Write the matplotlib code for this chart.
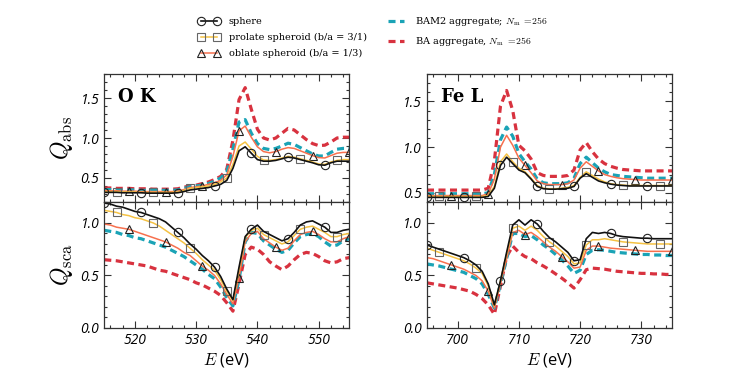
import matplotlib
matplotlib.use("Agg")
import matplotlib.pyplot as plt
import numpy as np
from matplotlib.ticker import MultipleLocator

# energy grids (eV)
E_O = np.arange(515, 556)
E_Fe = np.arange(695, 736)

# O K edge, absorption efficiency
O_abs_sphere = [0.32, 0.32, 0.32, 0.315, 0.315, 0.315, 0.315, 0.31, 0.31, 0.31,
                0.31, 0.31, 0.315, 0.33, 0.35, 0.36, 0.37, 0.38, 0.40, 0.42,
                0.47, 0.62, 0.84, 0.89, 0.81, 0.73, 0.71, 0.71, 0.72, 0.74,
                0.76, 0.75, 0.73, 0.71, 0.69, 0.665, 0.66, 0.69, 0.71, 0.71,
                0.71]
O_abs_prolate = [0.33, 0.33, 0.33, 0.325, 0.325, 0.325, 0.32, 0.32, 0.32, 0.32,
                 0.32, 0.32, 0.325, 0.345, 0.37, 0.38, 0.39, 0.40, 0.42, 0.45,
                 0.50, 0.67, 0.90, 0.95, 0.86, 0.77, 0.725, 0.72, 0.73, 0.75,
                 0.77, 0.76, 0.74, 0.72, 0.70, 0.675, 0.67, 0.70, 0.72, 0.73,
                 0.73]
O_abs_oblate = [0.34, 0.34, 0.34, 0.335, 0.335, 0.335, 0.33, 0.33, 0.33, 0.33,
                0.33, 0.33, 0.335, 0.355, 0.38, 0.39, 0.40, 0.42, 0.44, 0.47,
                0.54, 0.77, 1.09, 1.15, 1.01, 0.89, 0.83, 0.815, 0.83, 0.86,
                0.88, 0.87, 0.84, 0.81, 0.78, 0.755, 0.75, 0.78, 0.81, 0.82,
                0.82]
O_abs_bam2 = [0.355, 0.355, 0.355, 0.35, 0.35, 0.35, 0.345, 0.345, 0.345, 0.345,
              0.345, 0.345, 0.35, 0.37, 0.39, 0.40, 0.41, 0.43, 0.46, 0.50,
              0.58, 0.86, 1.20, 1.23, 1.06, 0.93, 0.87, 0.855, 0.87, 0.90,
              0.935, 0.92, 0.88, 0.84, 0.80, 0.775, 0.775, 0.82, 0.86, 0.87,
              0.87]
O_abs_ba = [0.375, 0.375, 0.37, 0.37, 0.37, 0.365, 0.365, 0.365, 0.36, 0.36,
            0.36, 0.36, 0.365, 0.385, 0.40, 0.41, 0.43, 0.45, 0.48, 0.52,
            0.61, 0.97, 1.48, 1.63, 1.36, 1.11, 1.00, 0.975, 1.00, 1.06,
            1.12, 1.10, 1.04, 0.98, 0.93, 0.905, 0.91, 0.95, 1.00, 1.01,
            1.01]

# O K edge, scattering efficiency
O_sca_sphere = [1.19, 1.18, 1.16, 1.15, 1.13, 1.11, 1.10, 1.08, 1.06, 1.04,
                1.01, 0.96, 0.91, 0.86, 0.80, 0.75, 0.69, 0.64, 0.58, 0.49,
                0.37, 0.27, 0.58, 0.87, 0.94, 0.98, 0.92, 0.89, 0.86, 0.83,
                0.85, 0.91, 0.98, 1.01, 1.02, 0.99, 0.96, 0.91, 0.91, 0.93,
                0.94]
O_sca_prolate = [1.12, 1.11, 1.10, 1.08, 1.07, 1.05, 1.04, 1.02, 1.00, 0.97,
                 0.93, 0.89, 0.85, 0.81, 0.76, 0.71, 0.65, 0.60, 0.55, 0.46,
                 0.35, 0.26, 0.55, 0.86, 0.93, 0.95, 0.89, 0.86, 0.83, 0.80,
                 0.82, 0.88, 0.94, 0.96, 0.97, 0.94, 0.91, 0.87, 0.87, 0.89,
                 0.90]
O_sca_oblate = [0.99, 0.98, 0.96, 0.95, 0.94, 0.92, 0.90, 0.88, 0.86, 0.84,
                0.82, 0.79, 0.76, 0.72, 0.69, 0.64, 0.59, 0.55, 0.50, 0.42,
                0.32, 0.23, 0.48, 0.82, 0.90, 0.92, 0.85, 0.81, 0.77, 0.74,
                0.76, 0.83, 0.89, 0.91, 0.92, 0.89, 0.85, 0.82, 0.82, 0.85,
                0.87]
O_sca_bam2 = [0.93, 0.92, 0.91, 0.89, 0.88, 0.86, 0.85, 0.83, 0.81, 0.79,
              0.77, 0.74, 0.71, 0.68, 0.64, 0.60, 0.56, 0.51, 0.47, 0.39,
              0.29, 0.21, 0.46, 0.82, 0.91, 0.90, 0.83, 0.79, 0.75, 0.72,
              0.74, 0.81, 0.87, 0.89, 0.90, 0.87, 0.82, 0.78, 0.79, 0.83,
              0.85]
O_sca_ba = [0.65, 0.645, 0.64, 0.63, 0.62, 0.61, 0.60, 0.59, 0.57, 0.55,
            0.54, 0.52, 0.50, 0.48, 0.46, 0.43, 0.41, 0.38, 0.35, 0.31,
            0.24, 0.16, 0.42, 0.70, 0.77, 0.75, 0.70, 0.63, 0.59, 0.555,
            0.59, 0.65, 0.70, 0.72, 0.71, 0.68, 0.64, 0.62, 0.63, 0.66,
            0.67]

# Fe L edge, absorption efficiency
Fe_abs_sphere = [0.45] * 10 + [
    0.46, 0.55, 0.80, 0.89, 0.82, 0.75, 0.72, 0.65, 0.57, 0.545,
    0.54, 0.54, 0.545, 0.55, 0.57, 0.66, 0.71, 0.67, 0.63, 0.61,
    0.595, 0.585, 0.58, 0.575, 0.575, 0.575, 0.575, 0.575, 0.575, 0.575,
    0.575]
Fe_abs_prolate = [0.46] * 10 + [
    0.47, 0.57, 0.84, 0.925, 0.84, 0.77, 0.73, 0.66, 0.58, 0.55,
    0.545, 0.545, 0.55, 0.56, 0.58, 0.67, 0.73, 0.69, 0.65, 0.62,
    0.60, 0.59, 0.585, 0.58, 0.58, 0.58, 0.58, 0.58, 0.58, 0.58,
    0.58]
Fe_abs_oblate = [0.47] * 10 + [
    0.49, 0.65, 1.00, 1.13, 1.02, 0.88, 0.80, 0.72, 0.63, 0.60,
    0.59, 0.59, 0.59, 0.60, 0.64, 0.77, 0.84, 0.79, 0.74, 0.70,
    0.68, 0.665, 0.655, 0.65, 0.645, 0.64, 0.64, 0.64, 0.64, 0.64,
    0.64]
Fe_abs_bam2 = [0.49] * 10 + [
    0.50, 0.70, 1.08, 1.22, 1.12, 0.93, 0.84, 0.76, 0.65, 0.61,
    0.60, 0.60, 0.60, 0.61, 0.66, 0.82, 0.89, 0.83, 0.77, 0.73,
    0.70, 0.69, 0.68, 0.675, 0.67, 0.665, 0.66, 0.66, 0.66, 0.66,
    0.66]
Fe_abs_ba = [0.53] * 10 + [
    0.55, 0.85, 1.45, 1.62, 1.40, 1.02, 0.96, 0.87, 0.72, 0.69,
    0.68, 0.68, 0.68, 0.69, 0.75, 0.97, 1.05, 0.95, 0.87, 0.82,
    0.79, 0.77, 0.755, 0.75, 0.745, 0.74, 0.74, 0.74, 0.74, 0.74,
    0.74]

# Fe L edge, scattering efficiency
Fe_sca_sphere = [0.79, 0.77, 0.75, 0.73, 0.71, 0.69, 0.67, 0.64, 0.60, 0.54,
                 0.42, 0.22, 0.45, 0.72, 0.98, 1.03, 0.98, 1.03, 0.99, 0.92,
                 0.86, 0.82, 0.77, 0.72, 0.64, 0.65, 0.85, 0.91, 0.90, 0.91,
                 0.90, 0.88, 0.87, 0.865, 0.86, 0.855, 0.855, 0.85, 0.85, 0.85,
                 0.85]
Fe_sca_prolate = [0.76, 0.74, 0.72, 0.70, 0.68, 0.66, 0.64, 0.61, 0.57, 0.52,
                  0.40, 0.21, 0.45, 0.70, 0.95, 0.97, 0.93, 0.97, 0.93, 0.87,
                  0.82, 0.78, 0.73, 0.68, 0.61, 0.62, 0.79, 0.84, 0.84, 0.85,
                  0.84, 0.83, 0.82, 0.815, 0.81, 0.805, 0.80, 0.80, 0.80, 0.80,
                  0.80]
Fe_sca_oblate = [0.67, 0.66, 0.64, 0.62, 0.60, 0.58, 0.56, 0.53, 0.50, 0.45,
                 0.35, 0.19, 0.42, 0.66, 0.91, 0.93, 0.89, 0.91, 0.87, 0.82,
                 0.77, 0.73, 0.68, 0.63, 0.57, 0.58, 0.74, 0.78, 0.78, 0.77,
                 0.76, 0.755, 0.75, 0.745, 0.74, 0.735, 0.73, 0.73, 0.73, 0.73,
                 0.73]
Fe_sca_bam2 = [0.61, 0.60, 0.59, 0.575, 0.56, 0.545, 0.53, 0.50, 0.47, 0.42,
               0.32, 0.19, 0.42, 0.66, 0.90, 0.90, 0.87, 0.88, 0.84, 0.79,
               0.75, 0.70, 0.65, 0.59, 0.52, 0.55, 0.70, 0.74, 0.745, 0.74,
               0.73, 0.72, 0.715, 0.71, 0.705, 0.70, 0.70, 0.695, 0.695, 0.69,
               0.69]
Fe_sca_ba = [0.43, 0.42, 0.41, 0.40, 0.39, 0.38, 0.365, 0.35, 0.32, 0.28,
             0.22, 0.13, 0.40, 0.68, 0.78, 0.72, 0.68, 0.66, 0.62, 0.59,
             0.555, 0.515, 0.475, 0.43, 0.38, 0.46, 0.555, 0.57, 0.565, 0.56,
             0.55, 0.54, 0.535, 0.53, 0.525, 0.52, 0.52, 0.515, 0.515, 0.51,
             0.51]

labels = ["sphere", "prolate spheroid (b/a = 3/1)", "oblate spheroid (b/a = 1/3)",
          r"BAM2 aggregate; $N_{\rm m}\ =\!256$", r"BA aggregate, $N_{\rm m}\ =\!256$"]

C_PRO = "#f5c243"
C_OBL = "#f7704e"
C_BAM = "#1aa3b6"
C_BA = "#d8323f"
SERIF = ["DejaVu Serif"]


def draw(ax, E, sph, pro, obl, bam, ba):
    ax.plot(E, ba, color=C_BA, lw=2.3, dashes=(2.2, 1.4), label=labels[4])
    ax.plot(E, bam, color=C_BAM, lw=2.3, dashes=(2.2, 1.4), label=labels[3])
    ax.plot(E, obl, color=C_OBL, lw=1.1, marker="^", mfc="none", mec="#222222",
            ms=6, mew=0.8, markevery=(4, 6), label=labels[2])
    ax.plot(E, pro, color=C_PRO, lw=1.1, marker="s", mfc="none", mec="#666666",
            ms=6, mew=0.8, markevery=(2, 6), label=labels[1])
    ax.plot(E, sph, color="#111111", lw=1.2, marker="o", mfc="none", mec="#222222",
            ms=6, mew=0.8, markevery=(0, 6), label=labels[0])


def style(ax, ymaj=0.5, ymin=0.1):
    ax.xaxis.set_major_locator(MultipleLocator(10))
    ax.xaxis.set_minor_locator(MultipleLocator(2))
    ax.yaxis.set_major_locator(MultipleLocator(ymaj))
    ax.yaxis.set_minor_locator(MultipleLocator(ymin))
    ax.tick_params(which="both", direction="in", top=True, right=True,
                   color="#333333", width=0.8)
    ax.tick_params(which="major", length=5, labelsize=10)
    ax.tick_params(which="minor", length=2.5)
    for lab in ax.get_xticklabels() + ax.get_yticklabels():
        lab.set_fontstyle("italic")
    for sp in ax.spines.values():
        sp.set_color("#333333")
        sp.set_linewidth(0.9)


def main():
    plt.rcParams["font.family"] = ["Open Sans", "DejaVu Sans"]
    plt.rcParams["mathtext.fontset"] = "cm"

    fig = plt.figure(figsize=(7.47, 3.74), dpi=100)
    w = 0.328
    ax_ot = fig.add_axes([0.1396, 0.460, w, 0.342])
    ax_ob = fig.add_axes([0.1396, 0.123, w, 0.337], sharex=ax_ot)
    ax_ft = fig.add_axes([0.5716, 0.460, w, 0.342])
    ax_fb = fig.add_axes([0.5716, 0.123, w, 0.337], sharex=ax_ft)

    draw(ax_ot, E_O, O_abs_sphere, O_abs_prolate, O_abs_oblate, O_abs_bam2, O_abs_ba)
    draw(ax_ob, E_O, O_sca_sphere, O_sca_prolate, O_sca_oblate, O_sca_bam2, O_sca_ba)
    draw(ax_ft, E_Fe, Fe_abs_sphere, Fe_abs_prolate, Fe_abs_oblate, Fe_abs_bam2, Fe_abs_ba)
    draw(ax_fb, E_Fe, Fe_sca_sphere, Fe_sca_prolate, Fe_sca_oblate, Fe_sca_bam2, Fe_sca_ba)

    ax_ot.set_xlim(515, 555)
    ax_ft.set_xlim(695, 735)
    ax_ot.set_ylim(0.2, 1.8)
    ax_ft.set_ylim(0.4, 1.8)
    ax_ob.set_ylim(0.0, 1.2)
    ax_fb.set_ylim(0.0, 1.2)

    for ax in (ax_ot, ax_ob, ax_ft, ax_fb):
        style(ax)
    for ax in (ax_ot, ax_ft):
        ax.tick_params(labelbottom=False)

    ax_ot.text(0.057, 0.82, "O K", transform=ax_ot.transAxes, fontsize=13,
               fontweight="bold", family=SERIF, va="center")
    ax_ft.text(0.057, 0.82, "Fe L", transform=ax_ft.transAxes, fontsize=13,
               fontweight="bold", family=SERIF, va="center")

    ax_ot.set_ylabel(r"$Q_{\rm abs}$", fontsize=17, labelpad=4)
    ax_ob.set_ylabel(r"$Q_{\rm sca}$", fontsize=17, labelpad=4)
    ax_ob.set_xlabel(r"$E$ (eV)", fontsize=12, labelpad=2)
    ax_fb.set_xlabel(r"$E$ (eV)", fontsize=12, labelpad=2)

    handles, labs = ax_ot.get_legend_handles_labels()
    order = [4, 3, 2, 1, 0]
    fig.legend([handles[i] for i in order], [labs[i] for i in order],
               loc="upper left", bbox_to_anchor=(0.254, 0.983), ncol=2,
               frameon=False, numpoints=2, handlelength=2.2, handletextpad=0.9,
               columnspacing=1.9, labelspacing=0.72,
               prop={"family": SERIF, "size": 7.0})

    fig.savefig("out.png", dpi=100)
    plt.close(fig)


if __name__ == "__main__":
    main()
